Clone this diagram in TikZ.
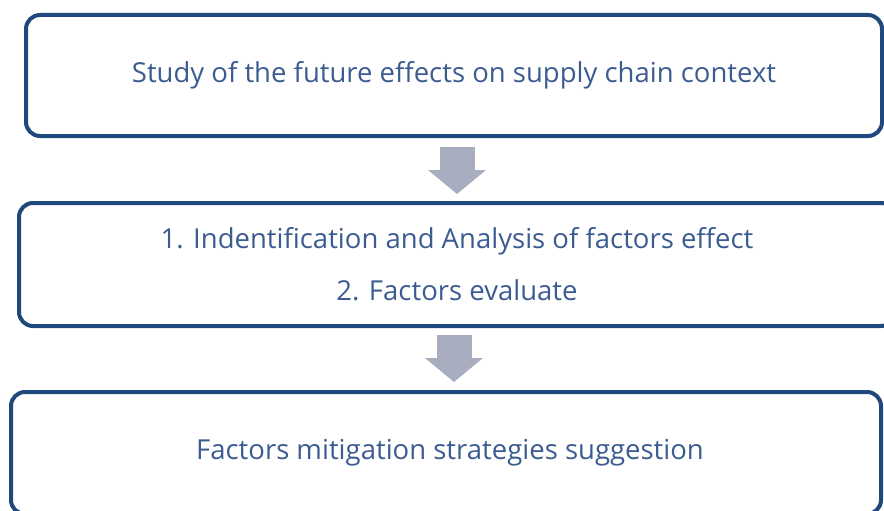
\documentclass[tikz,border=0pt]{standalone}
\usepackage{fontspec}
\setmainfont{Open Sans}
\usetikzlibrary{arrows.meta,positioning,calc}
\definecolor{boxnavy}{RGB}{31,73,125}
\definecolor{textblue}{RGB}{60,92,145}
\definecolor{arrowgray}{RGB}{168,174,192}

\begin{document}
\begin{tikzpicture}[x=1pt,y=-1pt,
	stagebox/.style={draw=boxnavy, line width=4pt, rounded corners=14pt, inner sep=0pt, outer sep=0pt,
		text=textblue, font=\fontsize{27.5}{52}\selectfont, align=center},
	flowarrow/.style={draw=arrowgray, line width=35pt, -{Triangle[width=58pt,length=24pt,line width=0pt]}}]
	%Frame - picture is cut at the page edges%
	%===========================================================
	\useasboundingbox (0,0) rectangle (884,511);
	\clip (0,0) rectangle (884,511);
	%Stages%
	%===========================================================
	\node[stagebox, minimum width=856pt, minimum height=121pt] (study) at (454,75.5)
		{Study of the future effects on supply chain context}; %Top box
	\node[stagebox, minimum width=876pt, minimum height=123pt] (analysis) at (457,264.5)
		{1. Indentification and Analysis of factors effect\\2. Factors evaluate}; %Middle box
	\node[stagebox, minimum width=870pt, minimum height=122pt] (mitigation) at (446,453)
		{\hspace*{8pt}Factors mitigation strategies suggestion}; %Bottom box
	%Block arrows between stages%
	%===========================================================
	\draw[flowarrow] ($(study.south)+(3,11)$) -- ($(analysis.north)+(0,-9)$);
	\draw[flowarrow] ($(analysis.south)+(-3,9)$) -- ($(mitigation.north)+(8,-10)$);
\end{tikzpicture}
\end{document}
